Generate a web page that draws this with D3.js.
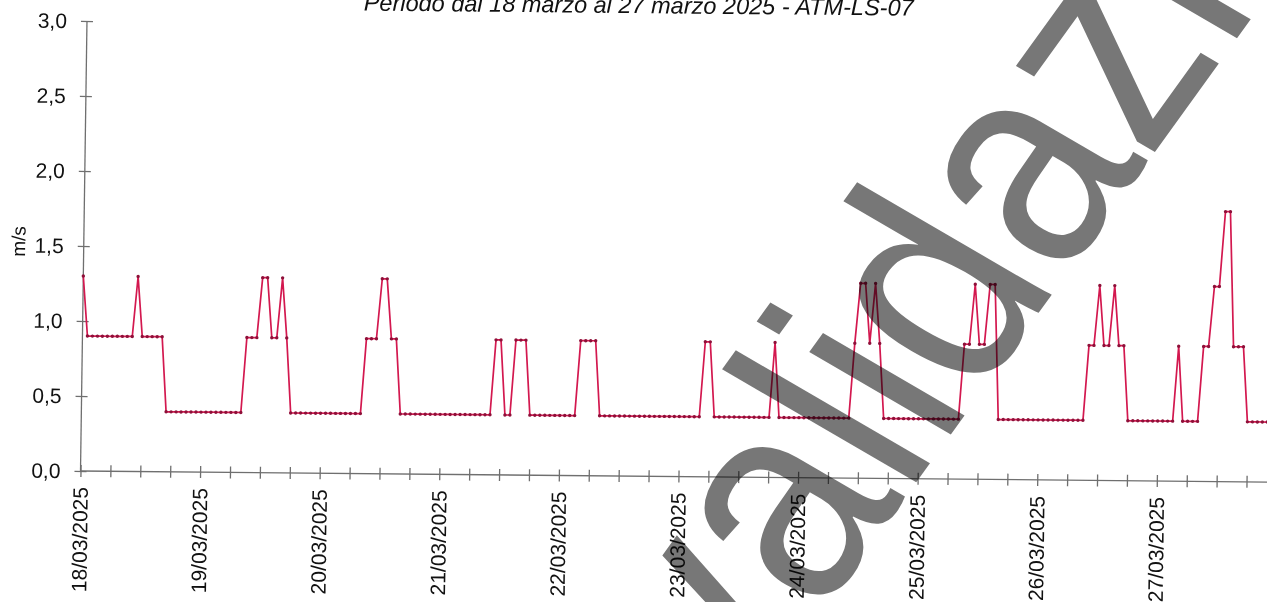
<!DOCTYPE html>
<html>
<head>
<meta charset="utf-8">
<script src="https://cdn.jsdelivr.net/npm/d3@7"></script>
<style>
  html, body { margin: 0; padding: 0; background: #fff; }
  svg { display: block; font-family: "Liberation Sans", Arial, sans-serif; }
  .stamp { mix-blend-mode: multiply; }
</style>
</head>
<body>
<svg id="chart" width="1267" height="602"></svg>
<script>
// Hourly wind speed, 18/03/2025 00:00 to 27/03/2025 23:00 (m/s)
const startDate = new Date(2025, 2, 18, 0, 0);
const endDate = new Date(2025, 2, 28, 0, 0);

const day18 = [1.3, 0.9,0.9,0.9,0.9,0.9,0.9,0.9,0.9,0.9,0.9, 1.3, 0.9,0.9,0.9,0.9,0.9, 0.4,0.4,0.4,0.4,0.4,0.4,0.4];
const day19 = [0.4,0.4,0.4,0.4,0.4,0.4,0.4,0.4,0.4, 0.9,0.9,0.9, 1.3,1.3, 0.9,0.9, 1.3, 0.9, 0.4,0.4,0.4,0.4,0.4,0.4];
const day20 = [0.4,0.4,0.4,0.4,0.4,0.4,0.4,0.4,0.4, 0.9,0.9,0.9, 1.3,1.3, 0.9,0.9, 0.4,0.4,0.4,0.4,0.4,0.4,0.4,0.4];
const day21 = [0.4,0.4,0.4,0.4,0.4,0.4,0.4,0.4,0.4,0.4,0.4, 0.9,0.9, 0.4,0.4, 0.9,0.9,0.9, 0.4,0.4,0.4,0.4,0.4,0.4];
const day22 = [0.4,0.4,0.4,0.4, 0.9,0.9,0.9,0.9, 0.4,0.4,0.4,0.4,0.4,0.4,0.4,0.4,0.4,0.4,0.4,0.4,0.4,0.4,0.4,0.4];
const day23 = [0.4,0.4,0.4,0.4,0.4, 0.9,0.9, 0.4,0.4,0.4,0.4,0.4,0.4,0.4,0.4,0.4,0.4,0.4,0.4, 0.9, 0.4,0.4,0.4,0.4];
const day24 = [0.4,0.4,0.4,0.4,0.4,0.4,0.4,0.4,0.4,0.4,0.4, 0.9, 1.3,1.3, 0.9, 1.3, 0.9, 0.4,0.4,0.4,0.4,0.4,0.4,0.4];
const day25 = [0.4,0.4,0.4,0.4,0.4,0.4,0.4,0.4,0.4, 0.9,0.9, 1.3, 0.9,0.9, 1.3,1.3, 0.4,0.4,0.4,0.4,0.4,0.4,0.4,0.4];
const day26 = [0.4,0.4,0.4,0.4,0.4,0.4,0.4,0.4,0.4,0.4, 0.9,0.9, 1.3, 0.9,0.9, 1.3, 0.9,0.9, 0.4,0.4,0.4,0.4,0.4,0.4];
const day27 = [0.4,0.4,0.4,0.4, 0.9, 0.4,0.4,0.4,0.4, 0.9,0.9, 1.3,1.3, 1.8,1.8, 0.9,0.9,0.9, 0.4,0.4,0.4,0.4,0.4,0.4];

const windSpeed = [].concat(day18, day19, day20, day21, day22, day23, day24, day25, day26, day27);

const yTicks = [0, 0.5, 1.0, 1.5, 2.0, 2.5, 3.0];
const titleText = "Periodo dal 18 marzo al 27 marzo 2025 - ATM-LS-07";
const yLabel = "m/s";
const stampText = "validazione";

const series = windSpeed.map((v, i) => ({ t: d3.timeHour.offset(startDate, i), v }));

const svg = d3.select("#chart");
svg.append("rect").attr("width", 1267).attr("height", 602).attr("fill", "#fff");

// plot frame
const x0 = 80.5, y0 = 471, yTop = 21;
const hourPx = 4.983;
const x = d3.scaleTime().domain([startDate, endDate]).range([x0, x0 + 240 * hourPx]);
const y = d3.scaleLinear().domain([0, 3]).range([y0, yTop]);

// whole chart sits slightly askew on the page
const g = svg.append("g")
  .attr("transform", `translate(${x0},${y0}) matrix(1 0.0093 -0.0144 1 0 0) translate(${-x0},${-y0})`);

// title
g.append("text")
  .attr("x", 357).attr("y", 8)
  .attr("font-size", 23.5).attr("font-style", "italic")
  .attr("fill", "#111")
  .text(titleText);

// y axis
const axisColor = "#6f6f6f";
const yAxis = g.append("g").attr("transform", `translate(${x0},0)`)
  .call(d3.axisLeft(y).tickValues(yTicks).tickSize(6)
    .tickFormat(d => d3.format(".1f")(d).replace(".", ",")));
yAxis.select(".domain").attr("stroke", axisColor).attr("stroke-width", 1.3).attr("d", `M0,${y0}V${yTop}`);
yAxis.selectAll(".tick line").attr("stroke", axisColor).attr("stroke-width", 1.3).attr("x1", -6).attr("x2", 6);
yAxis.selectAll(".tick text").attr("x", -20).attr("font-size", 21)
  .attr("font-family", "Liberation Sans, Arial, sans-serif").attr("fill", "#111");

// x axis
const xAxis = g.append("g").attr("transform", `translate(0,${y0})`)
  .call(d3.axisBottom(x).ticks(d3.timeHour.every(6)).tickSize(6).tickFormat(""));
xAxis.select(".domain").attr("stroke", axisColor).attr("stroke-width", 1.3).attr("d", `M${x0},0H${x0 + 240 * hourPx}`);
xAxis.selectAll(".tick line").attr("stroke", axisColor).attr("stroke-width", 1.3).attr("y1", -6).attr("y2", 6);

const days = d3.timeDay.range(startDate, endDate);
g.append("g").selectAll("text").data(days).join("text")
  .attr("transform", d => `translate(${x(d)},${y0 + 16}) rotate(-90)`)
  .attr("text-anchor", "end")
  .attr("dy", "0.36em")
  .attr("font-size", 21)
  .attr("fill", "#111")
  .text(d3.timeFormat("%d/%m/%Y"));

// y label
g.append("text")
  .attr("transform", `translate(22,242) rotate(-90)`)
  .attr("text-anchor", "middle")
  .attr("font-size", 19).attr("fill", "#111")
  .text(yLabel);

// series
const line = d3.line().x(d => x(d.t)).y(d => y(d.v));
g.append("path").datum(series)
  .attr("fill", "none").attr("stroke", "#d3184f").attr("stroke-width", 1.7)
  .attr("stroke-linejoin", "round")
  .attr("d", line);
g.append("g").selectAll("circle").data(series).join("circle")
  .attr("cx", d => x(d.t)).attr("cy", d => y(d.v)).attr("r", 1.7)
  .attr("fill", "#8e1039");

// stamp running diagonally across the page (sheared by the page scaling)
svg.append("text")
  .attr("class", "stamp")
  .attr("transform", "matrix(0.624 -0.864 1.072 0.624 741 725)")
  .attr("font-size", 250).attr("font-weight", "normal")
  .attr("font-family", "Liberation Sans, Arial, sans-serif")
  .attr("fill", "#777")
  .text(stampText);
</script>
</body>
</html>
